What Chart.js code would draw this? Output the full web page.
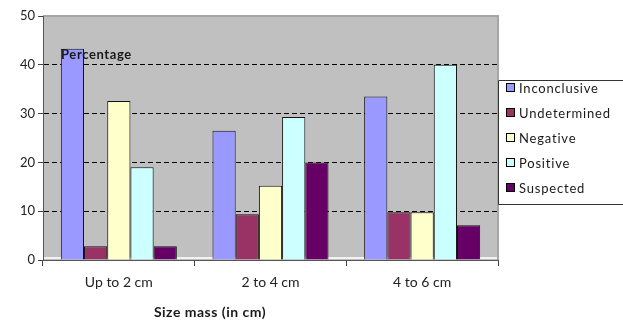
<!DOCTYPE html>
<html lang="en">
<head>
<meta charset="UTF-8">
<title>Size mass chart</title>
<script src="https://cdn.jsdelivr.net/npm/chart.js"></script>
<style>
  html, body { margin: 0; padding: 0; background: #fff; }
  #wrap { width: 623px; height: 321px; position: relative; }
</style>
</head>
<body>
<div id="wrap"><canvas id="myChart" width="623" height="321"></canvas></div>

<script>
// data
var categorias = ["Up to 2 cm", "2 to 4 cm", "4 to 6 cm"];
var inconclusive = [43.3, 26.5, 33.5];
var undetermined = [2.8, 9.4, 9.8];
var negative = [32.6, 15.2, 9.8];
var positive = [19.0, 29.3, 40.0];
var suspected = [2.8, 20.0, 7.1];
var ticksY = [0, 10, 20, 30, 40, 50];

var fonte = "Lato, 'Open Sans', sans-serif";

// gray plot area + little white floor line
const fundoPlot = {
  id: 'fundoPlot',
  beforeDraw(chart) {
    const { ctx, chartArea: a } = chart;
    ctx.save();
    ctx.fillStyle = '#C0C0C0';
    ctx.fillRect(a.left, a.top, a.right - a.left, a.bottom - a.top);
    ctx.strokeStyle = '#A6A6A6';
    ctx.lineWidth = 2;
    ctx.beginPath();
    ctx.moveTo(a.left, a.top);
    ctx.lineTo(a.right, a.top);
    ctx.lineTo(a.right, a.bottom);
    ctx.stroke();
    ctx.fillStyle = '#F2F2F2';
    ctx.fillRect(a.left + 1, a.bottom - 3, a.right - a.left - 2, 2);
    ctx.restore();
  },
  afterDraw(chart) {
    const { ctx, chartArea: a } = chart;
    ctx.save();
    // "Percentage" label inside plot
    ctx.fillStyle = '#1a1a1a';
    ctx.font = "bold 13px " + fonte;
    ctx.letterSpacing = '0.6px';
    ctx.textBaseline = 'middle';
    ctx.fillText('Percentage', 61, 55);
    // x axis title
    ctx.textAlign = 'center';
    ctx.font = "bold 14px " + fonte;
    ctx.letterSpacing = '0.5px';
    ctx.fillText('Size mass (in cm)', 210, 312);

    // legend box
    ctx.fillStyle = '#fff';
    ctx.fillRect(a.right, 80, 140, 124);
    ctx.strokeStyle = '#333';
    ctx.lineWidth = 1;
    ctx.beginPath();
    ctx.moveTo(640, 80.5);
    ctx.lineTo(a.right + 0.5, 80.5);
    ctx.lineTo(a.right + 0.5, 204.5);
    ctx.lineTo(640, 204.5);
    ctx.stroke();
    ctx.textAlign = 'left';
    ctx.font = "13px " + fonte;
    ctx.letterSpacing = '0.8px';
    chart.data.datasets.forEach(function (ds, i) {
      var y = 88 + i * 25;
      ctx.fillStyle = ds.backgroundColor;
      ctx.fillRect(506.5, y - 4.5, 8, 8);
      ctx.strokeStyle = '#000';
      ctx.strokeRect(506.5, y - 4.5, 8, 8);
      ctx.fillStyle = '#1a1a1a';
      ctx.fillText(ds.label, 519, y + 1);
    });
    ctx.restore();
  }
};

function serie(nome, valores, cor) {
  return {
    label: nome,
    data: valores,
    backgroundColor: cor,
    borderColor: '#111',
    borderWidth: 1,
    borderSkipped: 'bottom',
    categoryPercentage: 0.765,
    barPercentage: 1.0
  };
}

const config = {
  type: 'bar',
  data: {
    labels: categorias,
    datasets: [
      serie('Inconclusive', inconclusive, '#9999FF'),
      serie('Undetermined', undetermined, '#993366'),
      serie('Negative', negative, '#FFFFCC'),
      serie('Positive', positive, '#CCFFFF'),
      serie('Suspected', suspected, '#660066')
    ]
  },
  options: {
    responsive: false,
    animation: false,
    layout: { padding: { left: 0, top: 16, right: 125, bottom: 0 } },
    plugins: {
      legend: { display: false },
      tooltip: { enabled: false }
    },
    scales: {
      x: {
        grid: {
          offset: true,
          display: true,
          drawOnChartArea: false,
          drawTicks: true,
          tickLength: 6,
          color: '#444'
        },
        border: { display: true, color: '#555', width: 1 },
        ticks: {
          color: '#222',
          font: { family: fonte, size: 14 },
          padding: 8
        },
        afterFit: function (s) { s.height = 61; }
      },
      y: {
        min: 0,
        max: 50,
        afterBuildTicks: function (s) { s.ticks = ticksY.map(function (v) { return { value: v }; }); },
        grid: {
          color: function (c) {
            return (c.tick.value === 0 || c.tick.value === 50) ? 'rgba(0,0,0,0)' : '#000';
          },
          tickColor: '#444',
          lineWidth: 1,
          drawTicks: true,
          tickLength: 5
        },
        border: { display: true, color: '#555', width: 1, dash: [5, 3] },
        ticks: {
          color: '#222',
          font: { family: fonte, size: 13 },
          padding: 3
        },
        afterFit: function (s) { s.width = 43; }
      }
    }
  },
  plugins: [fundoPlot]
};

let myChart = new Chart(document.getElementById('myChart'), config);
</script>
</body>
</html>
